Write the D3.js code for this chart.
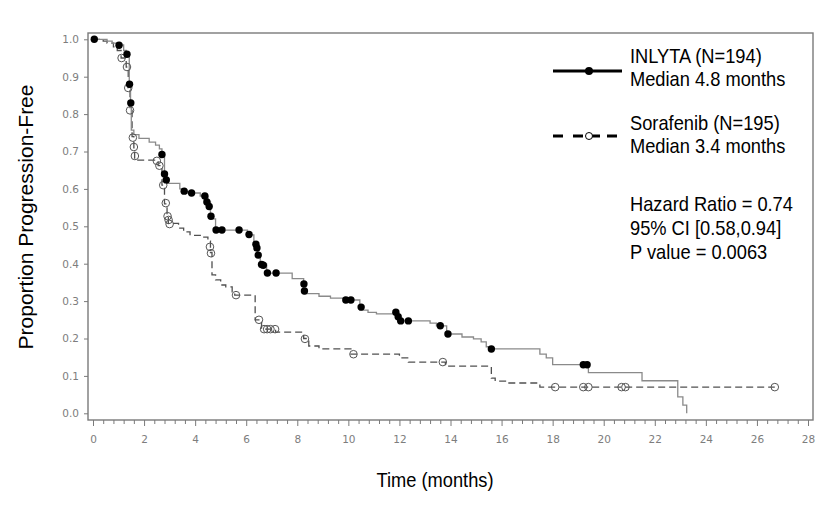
<!DOCTYPE html>
<html>
<head>
<meta charset="utf-8">
<script src="https://cdn.jsdelivr.net/npm/d3@7/dist/d3.min.js"></script>
<style>
  html, body { margin: 0; padding: 0; background: #fff; }
  svg { display: block; }
  .narrow { font-family: "Liberation Sans Narrow", "Liberation Sans", Arial, sans-serif; }
</style>
</head>
<body>
<svg id="chart" width="840" height="507"></svg>
<script>
// ---------------- data ----------------
const inlytaTime = [0, 0.55, 0.75, 1.0, 1.2, 1.3, 1.42, 1.47, 1.5, 1.6, 1.8, 2.2, 2.45, 2.6, 2.7, 2.8, 2.9, 3.4, 3.5, 3.7, 4.2, 4.5, 4.6, 4.7, 4.8, 6.05, 6.3, 6.4, 6.45, 6.55, 6.8, 7.8, 8.25, 8.85, 9.3, 9.85, 10.45, 10.77, 11.1, 11.85, 11.95, 13.2, 13.45, 13.85, 14.45, 14.9, 15.2, 15.4, 15.55, 17.5, 17.75, 18.0, 19.4, 21.5, 22.9, 23.1, 23.25];
const inlytaSurv = [1.0, 0.995, 0.99, 0.985, 0.97, 0.96, 0.88, 0.83, 0.757, 0.745, 0.735, 0.725, 0.717, 0.707, 0.69, 0.637, 0.615, 0.6, 0.594, 0.589, 0.581, 0.565, 0.53, 0.52, 0.49, 0.477, 0.453, 0.445, 0.423, 0.399, 0.375, 0.36, 0.32, 0.313, 0.308, 0.303, 0.276, 0.27, 0.266, 0.258, 0.247, 0.241, 0.234, 0.212, 0.204, 0.199, 0.191, 0.178, 0.172, 0.158, 0.148, 0.13, 0.109, 0.087, 0.044, 0.022, 0.0];
const inlytaCensorTime = [0.05, 1.02, 1.33, 1.43, 1.48, 2.7, 2.8, 2.87, 3.57, 3.86, 4.38, 4.46, 4.55, 4.62, 4.82, 5.05, 5.72, 6.11, 6.38, 6.42, 6.47, 6.6, 6.67, 6.83, 7.17, 8.26, 8.28, 9.9, 10.1, 10.5, 11.86, 11.95, 12.05, 12.35, 13.6, 13.9, 15.6, 19.2, 19.35];
const inlytaCensorSurv = [1.0, 0.984, 0.96, 0.88, 0.83, 0.692, 0.64, 0.624, 0.594, 0.589, 0.581, 0.565, 0.553, 0.527, 0.49, 0.49, 0.49, 0.478, 0.452, 0.442, 0.423, 0.398, 0.396, 0.375, 0.375, 0.346, 0.327, 0.303, 0.303, 0.284, 0.27, 0.258, 0.247, 0.247, 0.234, 0.212, 0.172, 0.13, 0.13];

const sorafenibTime = [0, 0.4, 0.55, 0.8, 0.95, 1.1, 1.3, 1.38, 1.45, 1.53, 1.6, 1.63, 2.55, 2.7, 2.8, 2.9, 2.95, 3.35, 3.55, 3.8, 4.2, 4.5, 4.6, 4.66, 4.8, 5.0, 5.2, 5.45, 5.55, 6.35, 6.6, 7.15, 8.25, 8.45, 8.85, 10.1, 12.0, 12.35, 13.8, 15.6, 15.75, 16.2, 17.5, 26.7];
const sorafenibSurv = [1.0, 0.995, 0.99, 0.98, 0.97, 0.95, 0.926, 0.87, 0.81, 0.74, 0.71, 0.677, 0.662, 0.61, 0.56, 0.527, 0.508, 0.495, 0.485, 0.476, 0.471, 0.461, 0.43, 0.37, 0.357, 0.343, 0.338, 0.325, 0.316, 0.25, 0.225, 0.217, 0.2, 0.18, 0.172, 0.158, 0.148, 0.137, 0.126, 0.094, 0.086, 0.081, 0.07, 0.07];
const sorafenibCensorTime = [1.12, 1.33, 1.38, 1.45, 1.56, 1.6, 1.64, 2.5, 2.6, 2.75, 2.85, 2.92, 2.96, 3.0, 4.58, 4.62, 5.6, 6.5, 6.7, 6.82, 6.95, 7.13, 8.3, 10.2, 13.7, 18.1, 19.2, 19.4, 20.7, 20.85, 26.7];
const sorafenibCensorSurv = [0.95, 0.926, 0.87, 0.81, 0.737, 0.712, 0.688, 0.675, 0.662, 0.61, 0.562, 0.527, 0.517, 0.506, 0.445, 0.428, 0.316, 0.25, 0.225, 0.225, 0.225, 0.225, 0.199, 0.158, 0.137, 0.07, 0.07, 0.07, 0.07, 0.07, 0.07];

const xMajorTicks = [0, 2, 4, 6, 8, 10, 12, 14, 16, 18, 20, 22, 24, 26, 28];
const yTicks = [0.0, 0.1, 0.2, 0.3, 0.4, 0.5, 0.6, 0.7, 0.8, 0.9, 1.0];

const legendLabels = [["INLYTA (N=194)", "Median 4.8 months"], ["Sorafenib (N=195)", "Median 3.4 months"]];
const statsLabels = ["Hazard Ratio = 0.74", "95% CI [0.58,0.94]", "P value = 0.0063"];

// ---------------- drawing ----------------
const svg = d3.select("#chart");
const x = d3.scaleLinear().domain([0, 28]).range([93, 808]);
const y = d3.scaleLinear().domain([0, 1]).range([413.3, 39.3]);

const frame = { left: 88, right: 813, top: 33, bottom: 420 };
const axisColor = "#7a7a7a";
const labelColor = "#7d7d7d";
const squeeze = 0.87;

// narrow text helper (horizontal condensation of a regular sans face)
function narrowText(parent, txt, tx, ty, anchor) {
  return parent.append("text").attr("class", "narrow")
    .attr("transform", `translate(${tx},${ty}) scale(${squeeze},1)`)
    .attr("text-anchor", anchor || "start")
    .style("font-size", "21px").attr("fill", "#000").text(txt);
}

// frame
svg.append("rect")
  .attr("x", frame.left).attr("y", frame.top)
  .attr("width", frame.right - frame.left).attr("height", frame.bottom - frame.top)
  .attr("fill", "none").attr("stroke", axisColor).attr("stroke-width", 1.4);

// x axis: minor ticks
const minorTicks = d3.range(0, 28.01, 0.4).filter(v => Math.abs(v / 2 - Math.round(v / 2)) > 1e-6);
const xMinor = d3.axisBottom(x).tickValues(minorTicks).tickSize(4).tickFormat("");
const gxm = svg.append("g").attr("transform", `translate(0,${frame.bottom})`).call(xMinor);
gxm.select(".domain").remove();
gxm.selectAll("line").attr("stroke", axisColor);

const xAxis = d3.axisBottom(x).tickValues(xMajorTicks).tickSize(6).tickPadding(10).tickFormat(d3.format("d"));
const gx = svg.append("g").attr("transform", `translate(0,${frame.bottom})`).call(xAxis);
gx.select(".domain").remove();
gx.selectAll("line").attr("stroke", axisColor);
gx.selectAll("text").attr("fill", labelColor).style("font-family", "'DejaVu Sans', sans-serif").style("font-size", "10.5px");

const yAxis = d3.axisLeft(y).tickValues(yTicks).tickSize(4).tickPadding(5).tickFormat(d3.format(".1f"));
const gy = svg.append("g").attr("transform", `translate(${frame.left},0)`).call(yAxis);
gy.select(".domain").remove();
gy.selectAll("line").attr("stroke", axisColor);
gy.selectAll("text").attr("fill", labelColor).style("font-family", "'DejaVu Sans', sans-serif").style("font-size", "10.5px");

// titles
svg.append("text")
  .attr("transform", "translate(33,217) rotate(-90)")
  .attr("text-anchor", "middle")
  .style("font-family", "'Liberation Sans', Arial, sans-serif")
  .style("font-size", "21px")
  .attr("fill", "#000")
  .text("Proportion Progression-Free");

narrowText(svg, "Time (months)", 435, 487, "middle");

// curves
const line = d3.line().x(d => x(d[0])).y(d => y(d[1])).curve(d3.curveStepAfter);
const inlytaPts = inlytaTime.map((t, i) => [t, inlytaSurv[i]]);
const sorafenibPts = sorafenibTime.map((t, i) => [t, sorafenibSurv[i]]);

svg.append("path").datum(sorafenibPts)
  .attr("d", line).attr("fill", "none")
  .attr("stroke", "#505050").attr("stroke-width", 1.3)
  .attr("stroke-dasharray", "7,4");

svg.append("path").datum(inlytaPts)
  .attr("d", line).attr("fill", "none")
  .attr("stroke", "#8a8a8a").attr("stroke-width", 1.3);

// censor marks
svg.append("g").selectAll("circle")
  .data(sorafenibCensorTime.map((t, i) => [t, sorafenibCensorSurv[i]]))
  .join("circle")
  .attr("cx", d => x(d[0])).attr("cy", d => y(d[1])).attr("r", 3.8)
  .attr("fill", "none").attr("stroke", "#555").attr("stroke-width", 1);

svg.append("g").selectAll("circle")
  .data(inlytaCensorTime.map((t, i) => [t, inlytaCensorSurv[i]]))
  .join("circle")
  .attr("cx", d => x(d[0])).attr("cy", d => y(d[1])).attr("r", 3.7)
  .attr("fill", "#000");

// legend
const lg = svg.append("g");
lg.append("line").attr("x1", 553).attr("x2", 622).attr("y1", 71).attr("y2", 71)
  .attr("stroke", "#000").attr("stroke-width", 3.2);
lg.append("circle").attr("cx", 589).attr("cy", 71).attr("r", 4).attr("fill", "#000");

lg.append("line").attr("x1", 553).attr("x2", 622).attr("y1", 136).attr("y2", 136)
  .attr("stroke", "#000").attr("stroke-width", 3.2).attr("stroke-dasharray", "10,10,10,5,12,7,10");
lg.append("circle").attr("cx", 589).attr("cy", 136).attr("r", 3.5)
  .attr("fill", "#fff").attr("stroke", "#000").attr("stroke-width", 1);

const legendY = [[63, 86], [130, 153]];
legendLabels.forEach((lines, i) => {
  lines.forEach((txt, j) => narrowText(lg, txt, 630, legendY[i][j]));
});
const statsY = [211, 235, 259];
statsLabels.forEach((txt, j) => narrowText(lg, txt, 630, statsY[j]));
</script>
</body>
</html>
